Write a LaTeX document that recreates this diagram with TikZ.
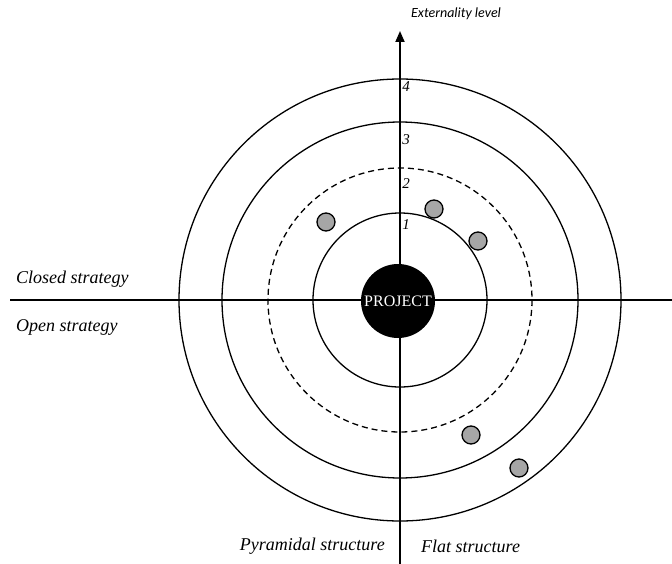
\documentclass[tikz,border=0pt]{standalone}
\usepackage{fontspec}
\setmainfont{Liberation Serif}
\newfontfamily\calib{Carlito}
\usetikzlibrary{arrows.meta}
\begin{document}
\begin{tikzpicture}[x=1pt,y=-1pt,
  ring/.style={line width=1.3pt},
  axis/.style={line width=1.8pt},
  dot/.style={circle,draw,line width=1.3pt,fill=black!35,minimum size=18pt,inner sep=0pt},
  lab/.style={font=\fontsize{18}{20}\selectfont\itshape,inner sep=0pt},
  num/.style={font=\fontsize{15}{17}\selectfont\itshape,inner sep=0pt}]
\useasboundingbox (0,0) rectangle (672,564);
\coordinate (c) at (400,300);
\draw[ring] (c) circle[radius=221];
\draw[ring] (c) circle[radius=178];
\draw[ring,dashed,dash pattern=on 6pt off 4pt] (c) circle[radius=132];
\draw[ring] (c) circle[radius=87];
\coordinate (xl) at (10,300);
\coordinate (xr) at (672,300);
\coordinate (yb) at (400,564);
\coordinate (yt) at (400,31);
\draw[axis] (xl) -- (xr);
\draw[axis,-{Triangle[length=11pt,width=9pt]}] (yb) -- (yt);
\node[circle,fill=black,minimum size=74pt,inner sep=0pt,text=white,font=\fontsize{16}{18}\selectfont] (proj) at (398,301) {PROJECT};
\node[num] (n4) at (406,87) {4};
\node[num] (n3) at (406,140) {3};
\node[num] (n2) at (406,184) {2};
\node[num] (n1) at (406,225) {1};
\node[font=\calib\fontsize{14}{16}\selectfont\itshape,inner sep=0pt] (ext) at (456,14) {Externality level};
\node[lab,anchor=west] (closed) at (16,279) {Closed strategy};
\node[lab,anchor=west] (open) at (16,327) {Open strategy};
\node[lab,anchor=east] (pyr) at (385,546) {Pyramidal structure};
\node[lab,anchor=west] (flat) at (421,546) {Flat structure};
\node[dot] (d1) at (326,222) {};
\node[dot] (d2) at (434,209) {};
\node[dot] (d3) at (478,241) {};
\node[dot] (d4) at (471,435) {};
\node[dot] (d5) at (519,468) {};
\end{tikzpicture}
\end{document}
